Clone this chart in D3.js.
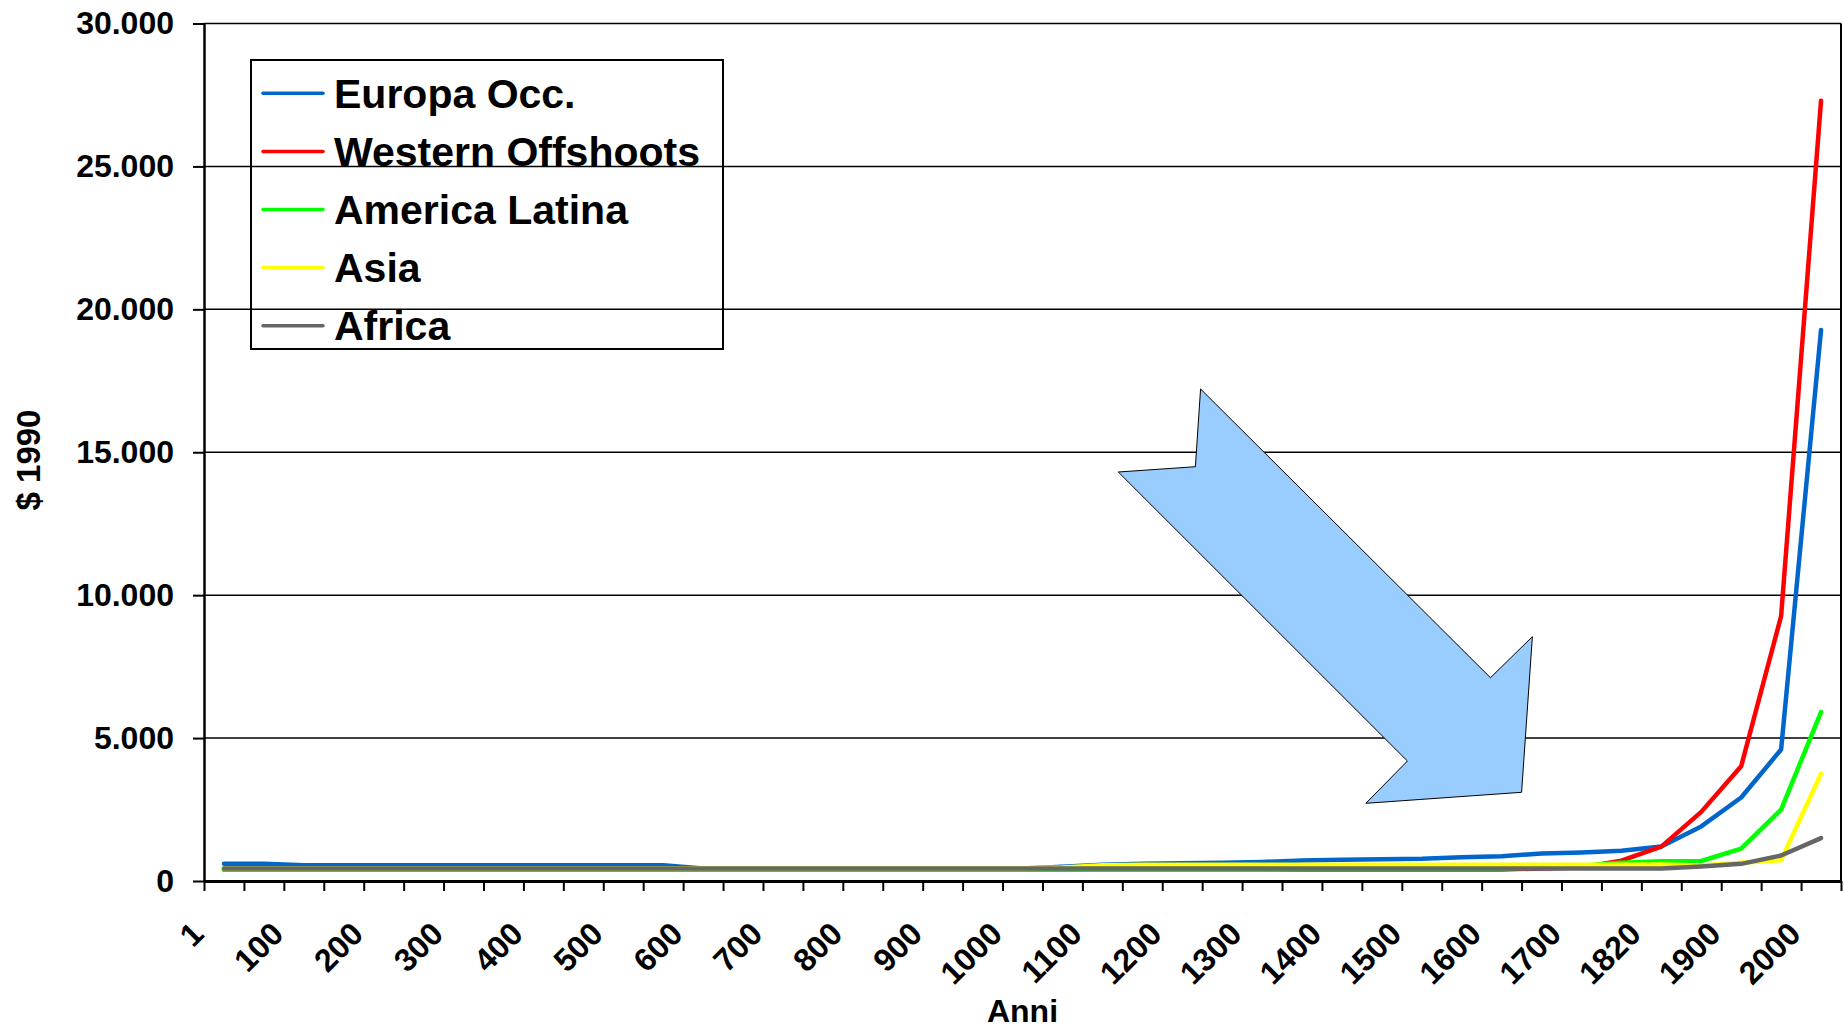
<!DOCTYPE html>
<html>
<head>
<meta charset="utf-8">
<style>
body { margin: 0; background: #fff; }
svg text { font-family: "Liberation Sans", Arial, sans-serif; font-weight: bold; fill: #000; }
.grid line { stroke: #000; stroke-width: 1.5; }
.series { fill: none; stroke-width: 4.5; stroke-linejoin: round; stroke-linecap: round; }
</style>
<script src="https://cdn.jsdelivr.net/npm/d3@7"></script>
</head>
<body>
<svg id="chart" width="1844" height="1030"></svg>
<script>
// categories (years), only every second one is labelled
var years = ["1","50","100","150","200","250","300","350","400","450","500","550","600","650",
  "700","750","800","850","900","950","1000","1050","1100","1150","1200","1250","1300","1350",
  "1400","1450","1500","1550","1600","1650","1700","1750","1820","1870","1900","1950","2000"];

var europaOcc = [600,600,550,550,550,550,550,550,550,550,550,550,440,440,440,440,440,440,440,440,440,
  500,570,600,620,635,665,720,745,765,780,830,870,960,995,1060,1210,1910,2920,4600,19280];
var westernOffshoots = [400,400,400,400,400,400,400,400,400,400,400,400,400,400,400,400,400,400,400,400,400,
  400,400,400,400,400,400,400,400,400,400,400,400,440,476,710,1202,2419,4015,9268,27300];
var americaLatina = [400,400,400,400,400,400,400,400,400,400,400,400,400,400,400,400,400,400,400,400,400,
  400,400,400,400,400,400,430,430,430,430,430,430,480,530,640,690,700,1130,2500,5910];
var asia = [450,450,450,450,450,450,450,450,450,450,450,450,450,450,450,450,450,450,450,450,450,
  470,550,570,570,570,570,570,570,570,570,570,570,570,570,570,575,545,640,730,3750];
var africa = [440,440,440,440,440,440,440,440,440,440,440,440,440,440,440,440,440,440,440,440,440,
  440,440,440,440,440,440,440,440,440,440,440,440,440,440,440,440,510,600,894,1500];

var seriesNames = ["Europa Occ.", "Western Offshoots", "America Latina", "Asia", "Africa"];
var seriesColors = ["#0066CC", "#FF0000", "#00FF00", "#FFFF00", "#666666"];
var yTicks = [0, 5000, 10000, 15000, 20000, 25000, 30000];

// the blue arrow, as [category position, value]
var arrowPts = [[24.96,17213],[24.83,14494],[22.90,14309],[30.14,4198],[29.10,2718],
  [33.00,3103],[33.27,8547],[32.22,7112]];

var series = [europaOcc, westernOffshoots, americaLatina, asia, africa];

var plotL = 204, plotR = 1841, plotT = 23.5, plotB = 881;
var svg = d3.select("#chart");

var x = d3.scaleBand().domain(years).range([plotL, plotR]).padding(0);
var xPos = d3.scaleLinear().domain([0, years.length]).range([plotL, plotR]);
var y = d3.scaleLinear().domain([0, 30000]).range([plotB, plotT]);

var itFormat = d3.formatLocale({decimal: ",", thousands: ".", grouping: [3], currency: ["", ""]}).format(",");

// gridlines
svg.append("g").attr("class", "grid")
  .selectAll("line").data(yTicks.slice(1)).enter().append("line")
  .attr("x1", plotL).attr("x2", plotR)
  .attr("y1", function(d) { return y(d); }).attr("y2", function(d) { return y(d); });

// right border of plot area
svg.append("line").attr("x1", plotR).attr("x2", plotR).attr("y1", plotT).attr("y2", plotB)
  .attr("stroke", "#000").attr("stroke-width", 2);

// y axis
var yAxis = d3.axisLeft(y).tickValues(yTicks).tickFormat(itFormat).tickSizeInner(11).tickSizeOuter(0).tickPadding(19);
var gy = svg.append("g").attr("transform", "translate(" + plotL + ",0)").call(yAxis);
gy.select(".domain").attr("stroke", "#000").attr("stroke-width", 2.5);
gy.selectAll(".tick line").attr("stroke", "#000").attr("stroke-width", 2);
gy.selectAll(".tick text").attr("font-size", 32).attr("font-family", null);

// x axis: ticks between categories
var xAxis = d3.axisBottom(xPos).tickValues(d3.range(0, years.length + 1)).tickFormat("").tickSizeInner(10).tickSizeOuter(0);
var gx = svg.append("g").attr("transform", "translate(0," + plotB + ")").call(xAxis);
gx.select(".domain").attr("stroke", "#000").attr("stroke-width", 3);
gx.selectAll(".tick line").attr("stroke", "#000").attr("stroke-width", 2);

svg.append("g").selectAll("text")
  .data(years.filter(function(d, i) { return i % 2 === 0; }))
  .enter().append("text")
  .attr("font-size", 32)
  .attr("text-anchor", "end")
  .attr("transform", function(d) {
    return "translate(" + (x(d) + x.bandwidth() / 2 - 18.5) + ",936) rotate(-45)";
  })
  .text(function(d) { return d; });

// axis titles
svg.append("text").attr("x", (plotL + plotR) / 2).attr("y", 1022).attr("text-anchor", "middle")
  .attr("font-size", 32).text("Anni");
svg.append("text").attr("transform", "translate(40,460) rotate(-90)").attr("text-anchor", "middle")
  .attr("font-size", 33).text("$ 1990");

// series lines
var line = d3.line()
  .x(function(d, i) { return x(years[i]) + x.bandwidth() / 2; })
  .y(function(d) { return y(d); });

svg.append("g").selectAll("path").data(series).enter().append("path")
  .attr("class", "series")
  .attr("stroke", function(d, i) { return seriesColors[i]; })
  .attr("d", line);

// arrow annotation
svg.append("polygon")
  .attr("points", arrowPts.map(function(p) { return xPos(p[0]) + "," + y(p[1]); }).join(" "))
  .attr("fill", "#99CCFF").attr("stroke", "#000").attr("stroke-width", 1);

// legend
var legend = svg.append("g");
legend.append("rect").attr("x", 251).attr("y", 60).attr("width", 472).attr("height", 289)
  .attr("fill", "none").attr("stroke", "#000").attr("stroke-width", 2);
var rows = legend.selectAll("g.row").data(seriesNames).enter().append("g")
  .attr("class", "row")
  .attr("transform", function(d, i) { return "translate(0," + (93.3 + i * 58.1) + ")"; });
rows.append("line").attr("x1", 263).attr("x2", 323).attr("y1", 0).attr("y2", 0)
  .attr("stroke", function(d, i) { return seriesColors[i]; }).attr("stroke-width", 3.5)
  .attr("stroke-linecap", "round");
rows.append("text").attr("x", 334).attr("y", 14.5).attr("font-size", 41)
  .text(function(d) { return d; });
</script>
</body>
</html>
